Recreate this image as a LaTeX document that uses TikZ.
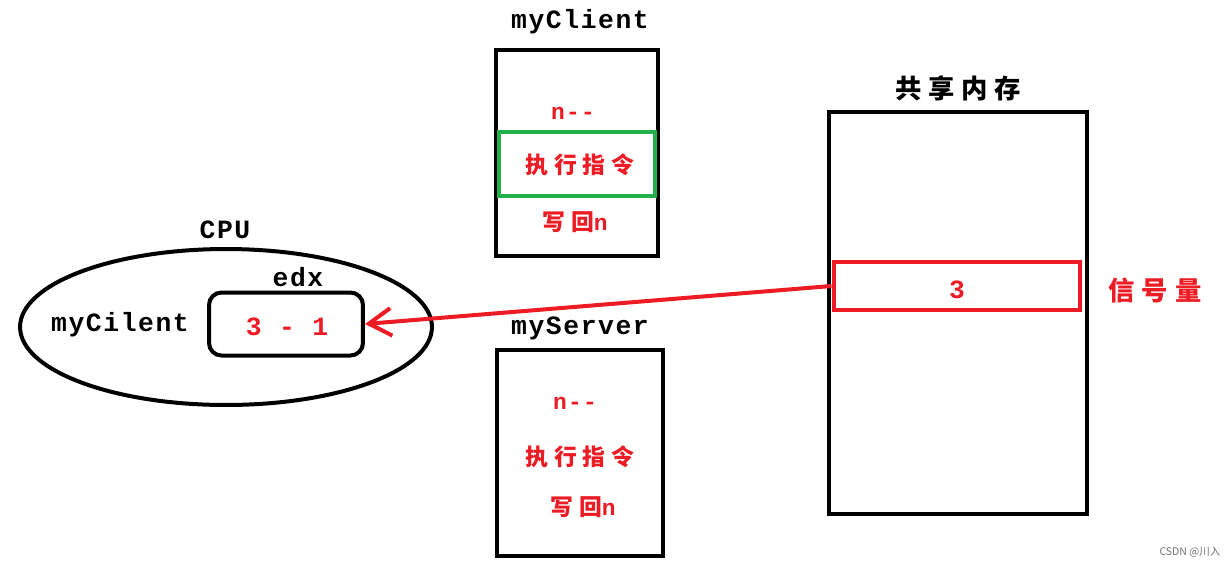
\documentclass[tikz,border=0pt]{standalone}
\usepackage{fontspec}
\setmainfont{Liberation Mono}
\setmonofont[LetterSpace=6]{Liberation Mono}
\newfontfamily\cjk[LetterSpace=26]{Noto Sans CJK SC}
\newfontfamily\plaincjk{Noto Sans CJK SC}
\usetikzlibrary{arrows.meta,shapes.geometric}
\definecolor{paintred}{RGB}{237,28,36}
\definecolor{paintgreen}{RGB}{34,177,76}
\begin{document}
\begin{tikzpicture}
  [x=0.02cm, y=-0.02cm,
   inner sep=0pt,
   frame/.style={draw=black,line width=0.08cm},
   title/.style={font=\ttfamily\bfseries\fontsize{15}{18}\selectfont},
   cjktitle/.style={font=\cjk\bfseries\fontsize{15}{18}\selectfont},
   op/.style={text=paintred,font=\ttfamily\bfseries\fontsize{13}{16}\selectfont},
   cjkop/.style={text=paintred,font=\cjk\bfseries\fontsize{13}{16}\selectfont},
   value/.style={text=paintred,font=\ttfamily\bfseries\fontsize{15}{18}\selectfont},
   pointer/.style={draw=paintred,line width=0.08cm,-{Straight Barb[length=0.45cm,width=0.55cm]}}]
  \useasboundingbox [fill=white] (0,0) rectangle (1230,575);
  % myClient
  \node at (577,153) (client) [frame,minimum width=3.26cm,minimum height=4.14cm] {};
  \node at (577,164) (clientexec) [frame,draw=paintgreen,minimum width=3.12cm,minimum height=1.28cm] {};
  \node at (580,22) (clientname) [title] {myClient};
  \node at (573,113) (clientdec) [op] {n--};
  \node at (580,165) (clientrun) [cjkop] {执行指令};
  \node at (575,222) (clientback) [op] {{\cjk 写回}n};
  % myServer
  \node at (580,453) (server) [frame,minimum width=3.32cm,minimum height=4.12cm] {};
  \node at (580,328) (servername) [title] {myServer};
  \node at (575,403) (serverdec) [op] {n--};
  \node at (580,457) (serverrun) [cjkop] {执行指令};
  \node at (583,507) (serverback) [op] {{\cjk 写回}n};
  % shared memory
  \node at (958,313) (mem) [frame,minimum width=5.16cm,minimum height=8.06cm] {};
  \node at (958,88) (memname) [cjktitle] {共享内存};
  \node at (957,286) (sem) [frame,draw=paintred,minimum width=4.94cm,minimum height=0.96cm] {};
  \node at (957,290) (semval) [value] {3};
  \node at (1155,290) (semname) [cjktitle,text=paintred] {信号量};
  % CPU
  \node at (226,327) (cpu) [frame,ellipse,minimum width=8.24cm,minimum height=3.12cm] {};
  \node at (225,230) (cpuname) [title] {CPU};
  \node at (120,325) (proc) [title] {myCilent};
  \node at (286,324) (edx) [frame,rounded corners=0.25cm,minimum width=3.08cm,minimum height=1.26cm] {};
  \node at (298,277) (edxname) [title] {edx};
  \node at (287,327) (edxval) [value] {3 - 1};
  \draw [pointer] (sem.west) to (edx.east);
  \node at (1190,552) (mark) [text=black!55,font=\plaincjk\fontsize{6}{7}\selectfont] {CSDN @川入};
\end{tikzpicture}
\end{document}
